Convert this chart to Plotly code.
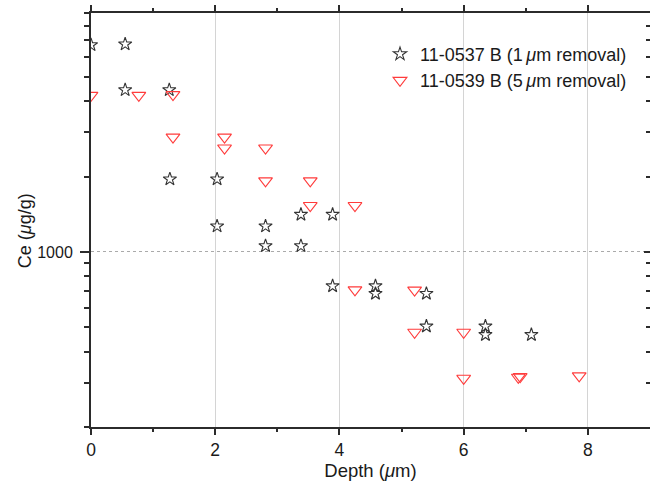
import numpy as np
import plotly.graph_objects as go

# Series 1: 11-0537 B (1 um removal) - stars
depth_a = [0.0, 0.55, 0.55, 1.26, 1.27, 2.03, 2.03, 2.81, 2.81, 3.38, 3.38, 3.89, 3.89, 4.58, 4.58, 5.40, 5.40, 6.35, 6.35, 7.09]
ce_a = [6710, 6755, 4435, 4435, 1953, 1953, 1267, 1267, 1057, 1057, 1411, 1411, 731, 731, 682, 682, 505, 505, 467, 467]

# Series 2: 11-0539 B (5 um removal) - triangles
depth_b = [0.0, 0.77, 1.32, 1.32, 2.15, 2.15, 2.81, 2.81, 3.53, 3.53, 4.25, 4.25, 5.21, 5.21, 6.0, 6.0, 6.88, 6.91, 7.86]
ce_b = [4220, 4220, 4250, 2875, 2875, 2600, 2600, 1923, 1923, 1532, 1532, 706, 704, 478, 478, 313, 316, 318, 320]

name_a = "11-0537 B (1\u2009<i>μ</i>m removal)"
name_b = "11-0539 B (5\u2009<i>μ</i>m removal)"

x_major = [0, 2, 4, 6, 8]
x_minor = [1, 3, 5, 7]
y_major = [1000]
y_minor = [200, 300, 400, 500, 600, 700, 800, 900, 2000, 3000, 4000, 5000, 6000, 7000, 8000, 9000]

FONT = "Liberation Sans, Arial, sans-serif"
AX = "#2b2b2b"
TXT = "#1a1a1a"

fig = go.Figure()
fig.add_trace(go.Scatter(
    x=depth_a, y=ce_a, mode="markers", name=name_a,
    marker=dict(symbol="star-open", size=10, color="#333333", line=dict(width=1.1, color="#333333")),
))
fig.add_trace(go.Scatter(
    x=depth_b, y=ce_b, mode="markers", name=name_b,
    marker=dict(symbol="triangle-down-open", size=12, color="#ff3b3b", line=dict(width=1.1, color="#ff3b3b")),
))
# dummy trace so the right-side axis is drawn
fig.add_trace(go.Scatter(x=[None], y=[None], yaxis="y2", showlegend=False, hoverinfo="skip"))

yr = [np.log10(200), np.log10(9000)]

fig.update_layout(
    width=650, height=481,
    margin=dict(l=91, r=0, t=13, b=54),
    paper_bgcolor="white", plot_bgcolor="white",
    font=dict(family=FONT, size=16, color=TXT),
    showlegend=True,
    legend=dict(x=0.517, y=0.945, xanchor="left", yanchor="top",
                bgcolor="rgba(0,0,0,0)", font=dict(size=18, color=TXT), tracegroupgap=0),
    xaxis=dict(
        range=[0, 9], tickmode="array", tickvals=x_major,
        ticks="outside", ticklen=6, tickwidth=1.5, tickcolor=AX,
        showline=True, linewidth=2, linecolor=AX, mirror="ticks",
        showgrid=True, gridcolor="#d4d4d4", gridwidth=1, zeroline=False,
        tickfont=dict(size=17.5, color=TXT),
        minor=dict(tickmode="array", tickvals=x_minor, ticks="outside", ticklen=3,
                   tickwidth=1.5, tickcolor=AX, showgrid=False),
        title=dict(text="Depth (<i>μ</i>m)", font=dict(size=18.5, color=TXT), standoff=7),
    ),
    yaxis=dict(
        type="log", range=yr, tickmode="array", tickvals=y_major, ticktext=["1000"],
        ticks="outside", ticklen=9, tickwidth=1.5, tickcolor=AX,
        showline=True, linewidth=2, linecolor=AX, mirror=False,
        showgrid=True, gridcolor="#aaaaaa", griddash="dot", gridwidth=1, zeroline=False,
        tickfont=dict(size=16, color=TXT), ticklabelstandoff=4,
        minor=dict(tickmode="array", tickvals=y_minor, ticks="outside", ticklen=5,
                   tickwidth=1.5, tickcolor=AX, showgrid=False),
    ),
    yaxis2=dict(
        type="log", range=yr, overlaying="y", side="right", tickmode="array",
        tickvals=y_major, showticklabels=False,
        ticks="inside", ticklen=6, tickwidth=2, tickcolor=AX,
        showline=False, showgrid=False, zeroline=False,
        minor=dict(tickmode="array", tickvals=y_minor, ticks="inside", ticklen=4,
                   tickwidth=1.5, tickcolor=AX, showgrid=False),
    ),
    annotations=[dict(
        text="Ce (<i>μ</i>g/g)", textangle=-90, xref="paper", yref="paper",
        x=-0.118, y=0.473, xanchor="center", yanchor="middle", showarrow=False,
        font=dict(size=18, family=FONT, color=TXT),
    )],
)

fig.write_html("out.html")
